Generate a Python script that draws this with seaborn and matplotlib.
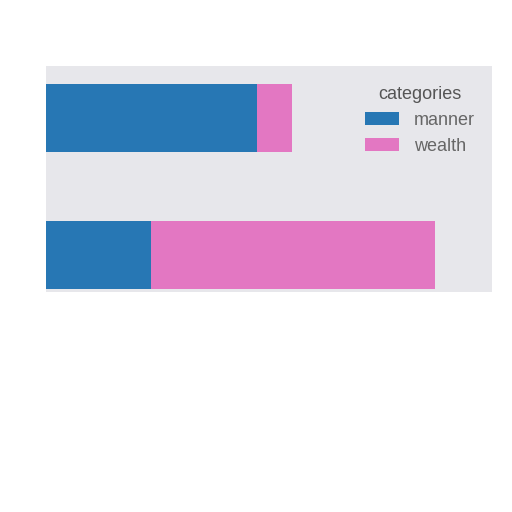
import matplotlib.pyplot as plt
import seaborn as sns
import pandas as pd

# Values
groups = ['first', 'second']
manner = [60, 30]
wealth = [10, 81]

df = pd.DataFrame({'group': groups, 'manner': manner, 'wealth': wealth})
df['total'] = df['manner'] + df['wealth']

sns.set_style('white')
plt.rcParams['font.family'] = ['Liberation Sans', 'DejaVu Sans']
fig = plt.figure(figsize=(5.12, 5.12), dpi=100)
ax = fig.add_axes([0.09, 0.43, 0.87, 0.441])
ax.set_facecolor('#e7e7eb')

# Stack: draw the full length in pink, then the manner part over it
sns.barplot(data=df, y='group', x='total', color='#e377c2', orient='h',
            width=0.5, ax=ax, label='wealth', saturation=1, linewidth=0)
sns.barplot(data=df, y='group', x='manner', color='#2777b4', orient='h',
            width=0.5, ax=ax, label='manner', saturation=1, linewidth=0)

ax.set_xlim(0, 127)
ax.set_ylim(1.27, -0.38)
ax.set_xticks([])
ax.set_yticks([])
ax.set_xlabel('')
ax.set_ylabel('')
for s in ax.spines.values():
    s.set_visible(False)

handles, labels = ax.get_legend_handles_labels()
order = [labels.index('manner'), labels.index('wealth')]
leg = ax.legend([handles[i] for i in order], [labels[i] for i in order],
                title='categories', frameon=False, loc='upper right',
                bbox_to_anchor=(1.0, 0.985), fontsize=13, title_fontsize=13,
                labelcolor='#666666', handlelength=1.9, handleheight=0.7,
                labelspacing=0.5, handletextpad=0.85)
leg.get_title().set_color('#555555')

plt.savefig('out.png')
